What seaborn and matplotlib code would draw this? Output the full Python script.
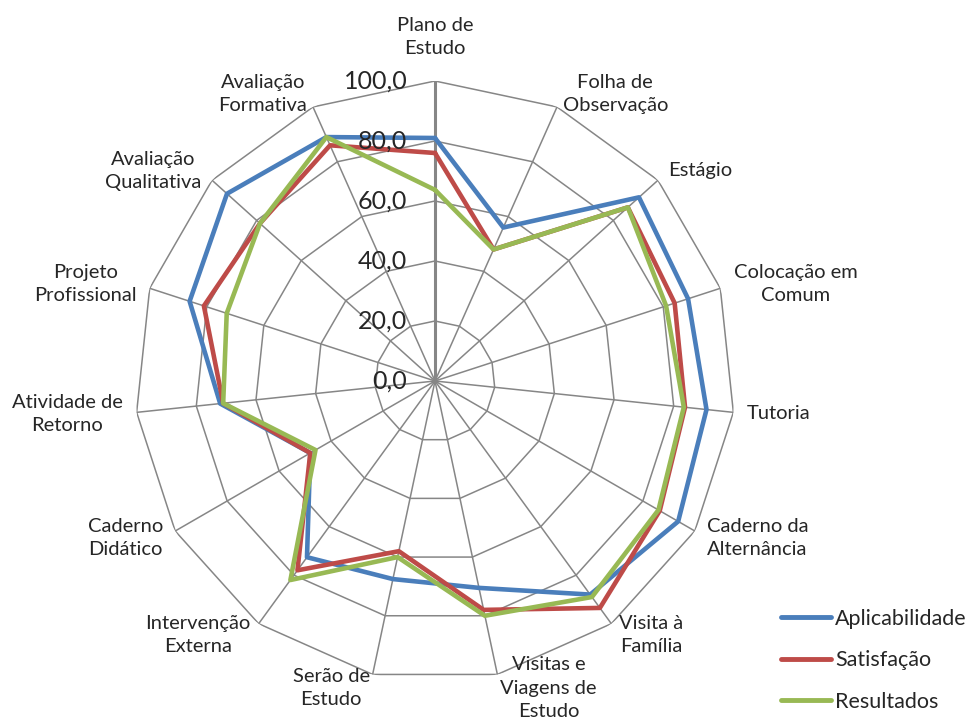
import numpy as np
import pandas as pd
import matplotlib
matplotlib.use('Agg')
import matplotlib.pyplot as plt
import seaborn as sns

# dados do gráfico radar
categorias = ['Plano de\nEstudo', 'Folha de\nObservação', 'Estágio', 'Colocação em\nComum',
              'Tutoria', 'Caderno da\nAlternância', 'Visita à\nFamília', 'Visitas e\nViagens de\nEstudo',
              'Serão de\nEstudo', 'Intervenção\nExterna', 'Caderno\nDidático', 'Atividade de\nRetorno',
              'Projeto\nProfissional', 'Avaliação\nQualitativa', 'Avaliação\nFormativa']
aplicabilidade = [81, 56, 91.5, 88.7, 91, 93.6, 88, 70.5, 67.5, 72.6, 48, 72, 86, 93.3, 89]
satisfacao = [76, 48, 86.5, 84, 83.8, 86.5, 93.5, 78, 58, 78, 48, 71, 81, 78.5, 86]
resultados = [63.7, 48, 86.5, 81, 83.4, 86, 89, 80, 60, 82, 46, 71, 73, 78.5, 89]
series = ['Aplicabilidade', 'Satisfação', 'Resultados']
cores = ['#4A7EBB', '#BE4B48', '#98B954']
ticks = [0, 20, 40, 60, 80, 100]

sns.set_style('white')
plt.rcParams['font.family'] = ['Lato', 'DejaVu Sans']

n = len(categorias)
angulos = np.arange(n) * 2 * np.pi / n
ang_fechado = np.append(angulos, 2 * np.pi)

# tabela longa para o seaborn
linhas = []
for nome, vals in zip(series, [aplicabilidade, satisfacao, resultados]):
    v = list(vals) + [vals[0]]
    for a, r in zip(ang_fechado, v):
        linhas.append({'theta': a, 'valor': r, 'serie': nome})
df = pd.DataFrame(linhas)

fig = plt.figure(figsize=(9.7, 7.22), dpi=100)
ax = fig.add_axes([135 / 970, 41 / 722, 600 / 970, 600 / 722], projection='polar')
ax.set_theta_zero_location('N')
ax.set_theta_direction(-1)
ax.set_ylim(0, 100)
ax.grid(False)
ax.set_xticks([])
ax.set_yticks([])
ax.spines['polar'].set_visible(False)

# grade poligonal
for r in ticks[1:]:
    ax.plot(ang_fechado, [r] * (n + 1), color='#868686', lw=1.1, zorder=1)
for i, a in enumerate(angulos):
    ax.plot([a, a], [0, 100], color='#868686', lw=2.2 if i == 0 else 1.1, zorder=1)

sns.lineplot(data=df, x='theta', y='valor', hue='serie', palette=cores, sort=False,
             estimator=None, linewidth=3.3, ax=ax, zorder=3)
ax.set_xlabel('')
ax.set_ylabel('')

# rótulos do eixo de valores
for t in ticks:
    ax.annotate(f'{t},0', xy=(0, t), xytext=(-20, 0), textcoords='offset points',
                ha='right', va='center', fontsize=18, zorder=4)

# rótulos das categorias
for a, cat in zip(angulos, categorias):
    s, c = np.sin(a), np.cos(a)
    ha = 'center' if abs(s) < 0.15 else ('left' if s > 0 else 'right')
    va = 'bottom' if c > 0.99 else 'center'
    off = 17 if c > 0.99 else 10
    ax.annotate(cat, xy=(a, 100), xytext=(off * s, off * c), textcoords='offset points',
                ha=ha, va=va, multialignment='center', fontsize=14.5, linespacing=1.45)

h, l = ax.get_legend_handles_labels()
ax.legend(h, l, loc='lower left', bbox_to_anchor=(762 / 970, -0.013), bbox_transform=fig.transFigure,
          frameon=False, fontsize=15.5, handlelength=2.3, handletextpad=0.2, labelspacing=1.0)
for ln in ax.get_legend().get_lines():
    ln.set_linewidth(3.5)
    ln.set_solid_capstyle('round')

plt.savefig('out.png', dpi=100)
